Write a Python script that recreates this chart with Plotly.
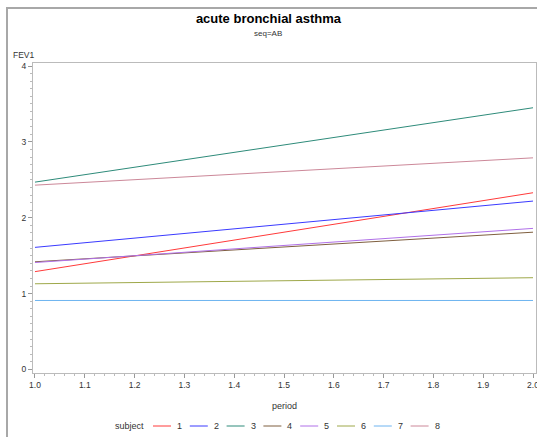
import plotly.graph_objects as go

period = [1, 2]
subjects = ["1", "2", "3", "4", "5", "6", "7", "8"]
fev1_p1 = [1.29, 1.61, 2.47, 1.42, 1.41, 1.13, 0.91, 2.43]
fev1_p2 = [2.33, 2.22, 3.45, 1.81, 1.86, 1.21, 0.91, 2.79]
colors = ["#FF3A3A", "#3A3AFF", "#2E8B7A", "#7F5F3F", "#B070E8", "#9EA84A", "#6EB4F0", "#CC8899"]

W, H = 537, 437
L, R, T, B = 33, 536, 63, 373  # plot area in pixels
pw, ph = R - L, B - T


def px(x):
    return (x - L) / pw


def py(y):
    return (B - y) / ph


fig = go.Figure()
for s, a, b, c in zip(subjects, fev1_p1, fev1_p2, colors):
    fig.add_trace(go.Scatter(x=period, y=[a, b], mode="lines", name=s,
                             line=dict(color=c, width=1), showlegend=False))

font = "Liberation Sans, Arial, sans-serif"
txt = "#333333"
fig.update_layout(
    width=W, height=H,
    margin=dict(l=L, r=W - R, t=T, b=H - B, autoexpand=False),
    paper_bgcolor="white", plot_bgcolor="white",
    font=dict(family=font, size=9, color=txt),
    title=dict(text="<b>acute bronchial asthma</b>", x=0.5, xref="container", xanchor="center",
               y=1 - 18 / H, yref="container", yanchor="middle",
               font=dict(size=13, color="black", family=font)),
    showlegend=False,
    xaxis=dict(range=[0.996, 2.006], tickvals=[1.0, 1.1, 1.2, 1.3, 1.4, 1.5, 1.6, 1.7, 1.8, 1.9, 2.0],
               ticktext=["1.0", "1.1", "1.2", "1.3", "1.4", "1.5", "1.6", "1.7", "1.8", "1.9", "2.0"],
               automargin=False, ticklabeloverflow="allow",
               showgrid=False, zeroline=False, showline=True, linecolor="#BBBBBB", linewidth=1,
               mirror=True, ticks="outside", ticklen=4, tickcolor="#999999",
               minor=dict(dtick=0.02, ticks="outside", ticklen=2, tickcolor="#BBBBBB"),
               tickfont=dict(size=8.5)),
    yaxis=dict(range=[-0.046, 4.04], tickvals=[0, 1, 2, 3, 4], automargin=False,
               showgrid=False, zeroline=False, showline=True, linecolor="#BBBBBB", linewidth=1,
               mirror=True, ticks="outside", ticklen=4, tickcolor="#999999",
               minor=dict(dtick=0.1, ticks="outside", ticklen=2, tickcolor="#BBBBBB"),
               tickfont=dict(size=8.5)),
)

fig.add_annotation(text="seq=AB", xref="paper", x=px(268), yref="paper", y=py(33),
                   showarrow=False, font=dict(size=8, color=txt),
                   xanchor="center", yanchor="middle")
fig.add_annotation(text="FEV1", xref="paper", x=px(11), yref="paper", y=py(55),
                   showarrow=False, font=dict(size=8.5, color=txt),
                   xanchor="left", yanchor="middle")
fig.add_annotation(text="period", xref="paper", x=0.5, yref="paper", y=py(406),
                   showarrow=False, font=dict(size=9, color=txt),
                   xanchor="center", yanchor="middle")

# legend row (drawn under the plot, keyed from subjects/colors)
leg_y = py(426)
fig.add_annotation(text="subject", xref="paper", x=px(146), yref="paper", y=leg_y,
                   showarrow=False, font=dict(size=9, color=txt), xanchor="right", yanchor="middle")
step = 36.8
for i, (s, c) in enumerate(zip(subjects, colors)):
    x0 = 153 + i * step
    fig.add_shape(type="line", xref="paper", yref="paper", x0=px(x0), x1=px(x0 + 18),
                  y0=leg_y, y1=leg_y, line=dict(color=c, width=1))
    fig.add_annotation(text=s, xref="paper", x=px(x0 + 22), yref="paper", y=leg_y,
                       showarrow=False, font=dict(size=9, color=txt), xanchor="left", yanchor="middle")

# outer frame
fig.add_shape(type="rect", xref="paper", yref="paper",
              x0=px(7), x1=px(545), y0=py(445), y1=py(8),
              line=dict(color="#A8A8A8", width=2), layer="below")

fig.write_html("out.html", config={"displayModeBar": False},
               post_script="document.body.style.margin='0';document.body.style.overflow='hidden';")
